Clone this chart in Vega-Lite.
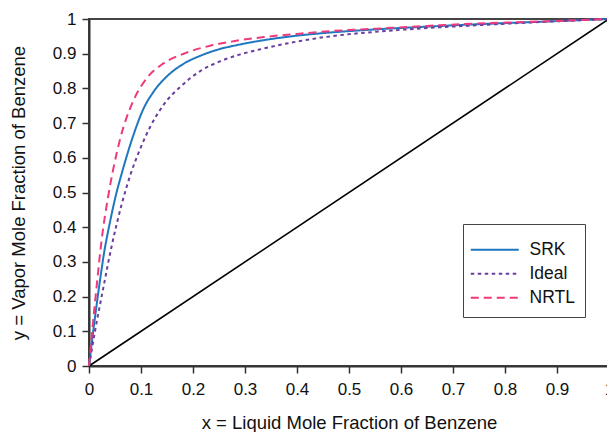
{
  "$schema": "https://vega.github.io/schema/vega-lite/v6.json",
  "width": 520,
  "height": 347,
  "autosize": {"type": "none"},
  "padding": {"left": 89, "top": 19, "right": 0, "bottom": 66},
  "background": "white",
  "config": {
    "font": "Liberation Sans",
    "view": {"stroke": "#444", "strokeWidth": 2},
    "axis": {
      "grid": false,
      "domainColor": "#333",
      "domainWidth": 2,
      "tickColor": "#333",
      "tickWidth": 1.5,
      "tickSize": 7,
      "labelFontSize": 17,
      "labelColor": "#111",
      "labelFont": "Liberation Sans",
      "titleFont": "Liberation Sans",
      "titleFontSize": 18.5,
      "titleFontWeight": "normal",
      "titleColor": "#111"
    },
    "legend": {
      "labelFont": "Liberation Sans",
      "labelFontSize": 17.5,
      "labelColor": "#111"
    }
  },
  "datasets": {
    "curves": [
      {"series": "SRK", "x": 0, "y": 0},
      {"series": "SRK", "x": 0.005, "y": 0.062},
      {"series": "SRK", "x": 0.0115, "y": 0.14},
      {"series": "SRK", "x": 0.021, "y": 0.245},
      {"series": "SRK", "x": 0.03, "y": 0.335},
      {"series": "SRK", "x": 0.037, "y": 0.39},
      {"series": "SRK", "x": 0.053, "y": 0.5},
      {"series": "SRK", "x": 0.062, "y": 0.55},
      {"series": "SRK", "x": 0.073, "y": 0.607},
      {"series": "SRK", "x": 0.086, "y": 0.668},
      {"series": "SRK", "x": 0.105, "y": 0.742},
      {"series": "SRK", "x": 0.124, "y": 0.79},
      {"series": "SRK", "x": 0.15, "y": 0.835},
      {"series": "SRK", "x": 0.182, "y": 0.871},
      {"series": "SRK", "x": 0.214, "y": 0.894},
      {"series": "SRK", "x": 0.246, "y": 0.911},
      {"series": "SRK", "x": 0.285, "y": 0.925},
      {"series": "SRK", "x": 0.336, "y": 0.939},
      {"series": "SRK", "x": 0.4, "y": 0.952},
      {"series": "SRK", "x": 0.464, "y": 0.961},
      {"series": "SRK", "x": 0.55, "y": 0.97},
      {"series": "SRK", "x": 0.65, "y": 0.978},
      {"series": "SRK", "x": 0.733, "y": 0.984},
      {"series": "SRK", "x": 0.85, "y": 0.991},
      {"series": "SRK", "x": 1, "y": 1},
      {"series": "Ideal", "x": 0, "y": 0},
      {"series": "Ideal", "x": 0.0115, "y": 0.1},
      {"series": "Ideal", "x": 0.0275, "y": 0.225},
      {"series": "Ideal", "x": 0.0435, "y": 0.345},
      {"series": "Ideal", "x": 0.0627, "y": 0.465},
      {"series": "Ideal", "x": 0.0794, "y": 0.55},
      {"series": "Ideal", "x": 0.099, "y": 0.628},
      {"series": "Ideal", "x": 0.118, "y": 0.69},
      {"series": "Ideal", "x": 0.143, "y": 0.752},
      {"series": "Ideal", "x": 0.176, "y": 0.805},
      {"series": "Ideal", "x": 0.214, "y": 0.85},
      {"series": "Ideal", "x": 0.252, "y": 0.878},
      {"series": "Ideal", "x": 0.291, "y": 0.898},
      {"series": "Ideal", "x": 0.336, "y": 0.915},
      {"series": "Ideal", "x": 0.4, "y": 0.935},
      {"series": "Ideal", "x": 0.464, "y": 0.95},
      {"series": "Ideal", "x": 0.55, "y": 0.963},
      {"series": "Ideal", "x": 0.65, "y": 0.974},
      {"series": "Ideal", "x": 0.733, "y": 0.981},
      {"series": "Ideal", "x": 0.85, "y": 0.99},
      {"series": "Ideal", "x": 1, "y": 1},
      {"series": "NRTL", "x": 0, "y": 0},
      {"series": "NRTL", "x": 0.0063, "y": 0.104},
      {"series": "NRTL", "x": 0.0146, "y": 0.228},
      {"series": "NRTL", "x": 0.024, "y": 0.36},
      {"series": "NRTL", "x": 0.037, "y": 0.49},
      {"series": "NRTL", "x": 0.047, "y": 0.57},
      {"series": "NRTL", "x": 0.06, "y": 0.655},
      {"series": "NRTL", "x": 0.086, "y": 0.767},
      {"series": "NRTL", "x": 0.111, "y": 0.829},
      {"series": "NRTL", "x": 0.143, "y": 0.872},
      {"series": "NRTL", "x": 0.182, "y": 0.9},
      {"series": "NRTL", "x": 0.233, "y": 0.923},
      {"series": "NRTL", "x": 0.278, "y": 0.936},
      {"series": "NRTL", "x": 0.336, "y": 0.948},
      {"series": "NRTL", "x": 0.4, "y": 0.957},
      {"series": "NRTL", "x": 0.464, "y": 0.965},
      {"series": "NRTL", "x": 0.55, "y": 0.972},
      {"series": "NRTL", "x": 0.65, "y": 0.98},
      {"series": "NRTL", "x": 0.714, "y": 0.985},
      {"series": "NRTL", "x": 0.85, "y": 0.992},
      {"series": "NRTL", "x": 1, "y": 1}
    ],
    "diagonal": [
      {"x": 0, "y": 0},
      {"x": 1, "y": 1}
    ]
  },
  "encoding": {
    "x": {
      "field": "x",
      "type": "quantitative",
      "scale": {"domain": [0, 1], "nice": false},
      "axis": {"values": [0, 0.1, 0.2, 0.3, 0.4, 0.5, 0.6, 0.7, 0.8, 0.9, 1], "labelExpr": "datum.value == 0 ? '0' : datum.value == 1 ? '1' : format(datum.value, '.1f')", "title": "x = Liquid Mole Fraction of Benzene", "titlePadding": 16, "labelPadding": 8, "labelFlush": false, "labelOverlap": false, "labelBound": false}
    },
    "y": {
      "field": "y",
      "type": "quantitative",
      "scale": {"domain": [0, 1], "nice": false},
      "axis": {"values": [0, 0.1, 0.2, 0.3, 0.4, 0.5, 0.6, 0.7, 0.8, 0.9, 1], "labelExpr": "datum.value == 0 ? '0' : datum.value == 1 ? '1' : format(datum.value, '.1f')", "title": "y = Vapor Mole Fraction of Benzene", "titlePadding": 24, "labelPadding": 6, "labelFlush": false, "labelOverlap": false, "labelBound": false}
    }
  },
  "layer": [
    {
      "data": {"name": "diagonal"},
      "mark": {"type": "line", "color": "black", "strokeWidth": 1.6},
      "encoding": {}
    },
    {
      "data": {"name": "curves"},
      "mark": {"type": "line", "strokeWidth": 2, "interpolate": "monotone"},
      "encoding": {
        "color": {
          "field": "series",
          "type": "nominal",
          "scale": {"domain": ["SRK", "Ideal", "NRTL"], "range": ["#1f77c1", "#6a3d9e", "#ee3a7c"]},
          "legend": {
            "title": " ",
            "titleFontSize": 5,
            "titlePadding": 2,
            "orient": "none",
            "legendX": 374,
            "legendY": 205,
            "symbolType": "M-4,0H4",
            "symbolSize": 144,
            "symbolStrokeWidth": 2,
            "symbolOffset": 13,
            "strokeColor": "#444",
            "fillColor": "white",
            "padding": 10,
            "rowPadding": 5,
            "labelOffset": 26
          }
        },
        "strokeDash": {
          "field": "series",
          "type": "nominal",
          "scale": {"domain": ["SRK", "Ideal", "NRTL"], "range": [[1, 0], [3.5, 3.5], [8, 5]]},
          "legend": null
        },
        "order": {"field": "x", "type": "quantitative"}
      }
    }
  ]
}
